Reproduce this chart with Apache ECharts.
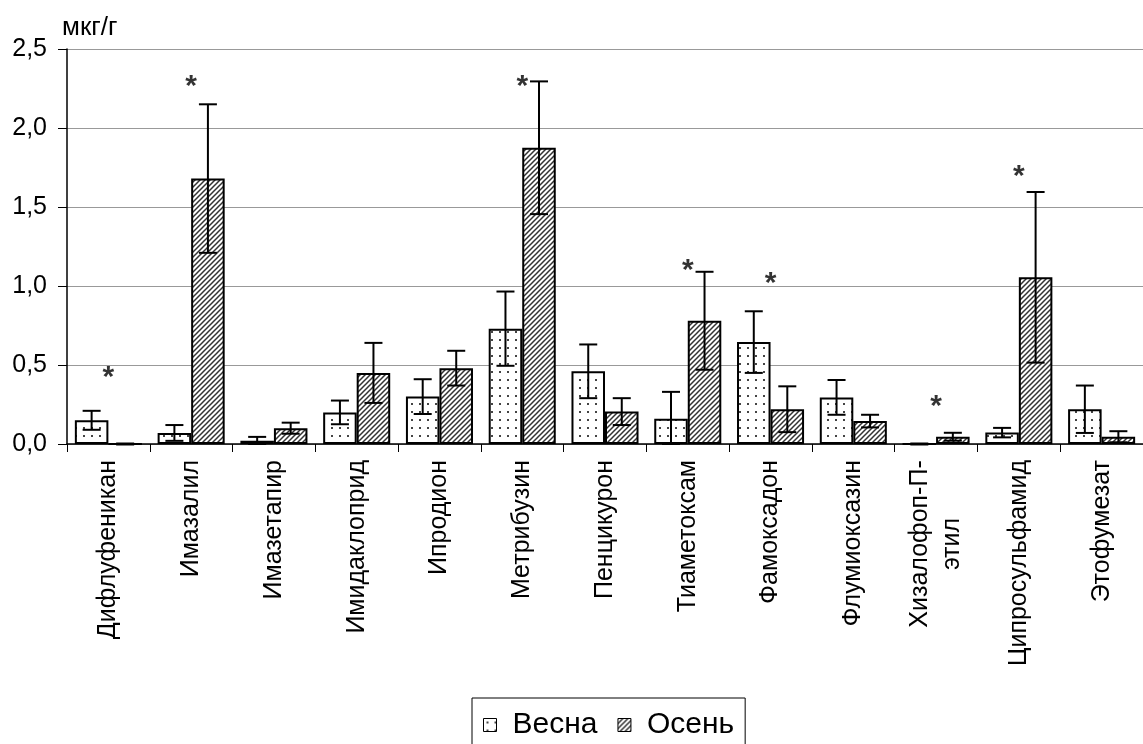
<!DOCTYPE html>
<html>
<head>
<meta charset="utf-8">
<script src="https://cdn.jsdelivr.net/npm/echarts@6/dist/echarts.min.js"></script>
<style>
  html, body { margin: 0; padding: 0; background: #fff; }
  #chart { width: 1143px; height: 744px; }
</style>
</head>
<body>
<div id="chart"></div>
<script>
// Pesticide residues, spring vs autumn, µg/g
const categories = [
  'Дифлуфеникан', 'Имазалил', 'Имазетапир', 'Имидаклоприд', 'Ипродион',
  'Метрибузин', 'Пенцикурон', 'Тиаметоксам', 'Фамоксадон', 'Флумиоксазин',
  'Хизалофоп-П-\nэтил', 'Ципросульфамид', 'Этофумезат'
];
const springValues = [0.15, 0.07, 0.02, 0.20, 0.30, 0.73, 0.46, 0.16, 0.645, 0.295, 0.0, 0.072, 0.22];
const springErrors = [0.06, 0.05, 0.025, 0.075, 0.11, 0.235, 0.17, 0.17, 0.195, 0.11, 0.0, 0.03, 0.15];
const autumnValues = [0.0, 1.68, 0.10, 0.45, 0.48, 1.875, 0.205, 0.78, 0.22, 0.145, 0.046, 1.055, 0.046];
const autumnErrors = [0.0, 0.47, 0.035, 0.19, 0.11, 0.42, 0.085, 0.31, 0.145, 0.04, 0.025, 0.54, 0.035];
// significance marks (position of the asterisk, null = none)
const starLevels = [0.47, 2.31, null, null, null, 2.31, null, 1.15, 1.065, null, 0.285, 1.74, null];
const yTicks = { min: 0, max: 2.5, step: 0.5 };
const unitLabel = 'мкг/г';
const seriesNames = ['Весна', 'Осень'];

const FONT = 'Liberation Sans, Arial, sans-serif';
const LABEL_SIZE = 25;
const GAP_RATIO = 0.19;

function dotPattern() {
  const c = document.createElement('canvas');
  c.width = 8; c.height = 8;
  const g = c.getContext('2d');
  g.fillStyle = '#fff'; g.fillRect(0, 0, 8, 8);
  g.fillStyle = '#444'; g.fillRect(3, 3, 2, 2);
  return c;
}
function hatchPattern() {
  const s = 5;
  const c = document.createElement('canvas');
  c.width = s; c.height = s;
  const g = c.getContext('2d');
  g.fillStyle = '#fff'; g.fillRect(0, 0, s, s);
  g.strokeStyle = '#333'; g.lineWidth = 1.5;
  g.beginPath();
  g.moveTo(-s / 2, s / 2); g.lineTo(s / 2, -s / 2);
  g.moveTo(0, s); g.lineTo(s, 0);
  g.moveTo(s / 2, s * 1.5); g.lineTo(s * 1.5, s / 2);
  g.stroke();
  return c;
}

const springFill = { image: dotPattern(), repeat: 'repeat' };
const autumnFill = { image: hatchPattern(), repeat: 'repeat' };

// multi-line category names: every line gets the width of the longest one,
// so the lines are centred against each other
const measureCtx = document.createElement('canvas').getContext('2d');
measureCtx.font = LABEL_SIZE + 'px ' + FONT;
function categoryLabel(name) {
  if (name.indexOf('\n') < 0) return name;
  return name.split('\n').map(l => '{c|' + l + '}').join('\n');
}
const blockWidth = Math.ceil(Math.max.apply(null,
  categories.filter(n => n.indexOf('\n') >= 0)
    .map(n => Math.max.apply(null, n.split('\n').map(l => measureCtx.measureText(l).width)))
    .concat([0])));

function errorSeries(values, errors, side) {
  return {
    type: 'custom',
    z: 5,
    silent: true,
    data: values.map((v, i) => [i, v, errors[i]]),
    renderItem: function (params, api) {
      const i = api.value(0), v = api.value(1), e = api.value(2);
      const catW = api.size([1, 0])[0];
      const barW = catW * (1 - GAP_RATIO) / 2;
      const dx = side * barW / 2;
      const top = api.coord([i, v + e]);
      const bot = api.coord([i, Math.max(v - e, 0)]);
      const x = top[0] + dx;
      const cap = 9;
      const style = { stroke: '#000', lineWidth: 2 };
      return {
        type: 'group',
        children: [
          { type: 'line', shape: { x1: x, y1: top[1], x2: x, y2: bot[1] }, style },
          { type: 'line', shape: { x1: x - cap, y1: top[1], x2: x + cap, y2: top[1] }, style },
          { type: 'line', shape: { x1: x - cap, y1: bot[1], x2: x + cap, y2: bot[1] }, style: { stroke: '#000', lineWidth: e === 0 ? 3 : 2 } }
        ]
      };
    }
  };
}

const chart = echarts.init(document.getElementById('chart'), null, { renderer: 'canvas' });
chart.setOption({
  animation: false,
  backgroundColor: '#fff',
  textStyle: { fontFamily: FONT, color: '#000' },
  grid: { left: 67, top: 49, right: -13, bottom: 300, containLabel: false },
  legend: {
    left: 472, top: 698,
    data: seriesNames,
    icon: 'rect',
    itemWidth: 13, itemHeight: 13, itemGap: 20,
    borderColor: '#000', borderWidth: 1,
    padding: [12, 11, 20, 11],
    itemStyle: { borderColor: '#000', borderWidth: 1 },
    textStyle: { fontFamily: FONT, fontSize: 30, color: '#000', padding: [0, 0, 0, 11] }
  },
  xAxis: {
    type: 'category',
    data: categories,
    axisLine: { lineStyle: { color: '#000', width: 1.5 } },
    axisTick: { show: true, length: 8, lineStyle: { color: '#000', width: 1 } },
    axisLabel: {
      rotate: 90, margin: 16, interval: 0,
      fontFamily: FONT, fontSize: LABEL_SIZE, color: '#000', lineHeight: 32,
      formatter: categoryLabel,
      rich: {
        c: { fontFamily: FONT, fontSize: LABEL_SIZE, color: '#000', lineHeight: 32, width: blockWidth, align: 'center' }
      }
    }
  },
  yAxis: {
    type: 'value',
    min: yTicks.min, max: yTicks.max, interval: yTicks.step,
    name: unitLabel,
    nameLocation: 'end',
    nameGap: 8,
    nameTextStyle: { fontFamily: FONT, fontSize: 26, color: '#000', align: 'left', padding: [0, 0, 0, -5] },
    axisLine: { show: true, lineStyle: { color: '#000', width: 1.5 } },
    axisTick: { show: true, length: 9, lineStyle: { color: '#000' } },
    axisLabel: {
      margin: 20, fontFamily: FONT, fontSize: 25, color: '#000',
      formatter: v => v.toFixed(1).replace('.', ',')
    },
    splitLine: { show: true, lineStyle: { color: '#999', width: 1 } }
  },
  series: [
    {
      name: seriesNames[0], type: 'bar', data: springValues,
      barGap: '0%', barCategoryGap: (GAP_RATIO * 100) + '%',
      itemStyle: { color: springFill, borderColor: '#000', borderWidth: 2 }
    },
    {
      name: seriesNames[1], type: 'bar', data: autumnValues,
      barGap: '0%', barCategoryGap: (GAP_RATIO * 100) + '%',
      itemStyle: { color: autumnFill, borderColor: '#000', borderWidth: 2 }
    },
    errorSeries(springValues, springErrors, -1),
    errorSeries(autumnValues, autumnErrors, 1),
    {
      type: 'scatter',
      z: 6,
      silent: true,
      symbolSize: 1,
      itemStyle: { color: 'rgba(0,0,0,0)' },
      data: starLevels.map((v, i) => (v === null ? null : [i, v])).filter(d => d),
      label: {
        show: true, position: 'inside', formatter: '*',
        fontFamily: FONT, fontSize: 30, fontWeight: 'bold', color: '#000',
        offset: [0, 8]
      }
    }
  ]
});
</script>
</body>
</html>
